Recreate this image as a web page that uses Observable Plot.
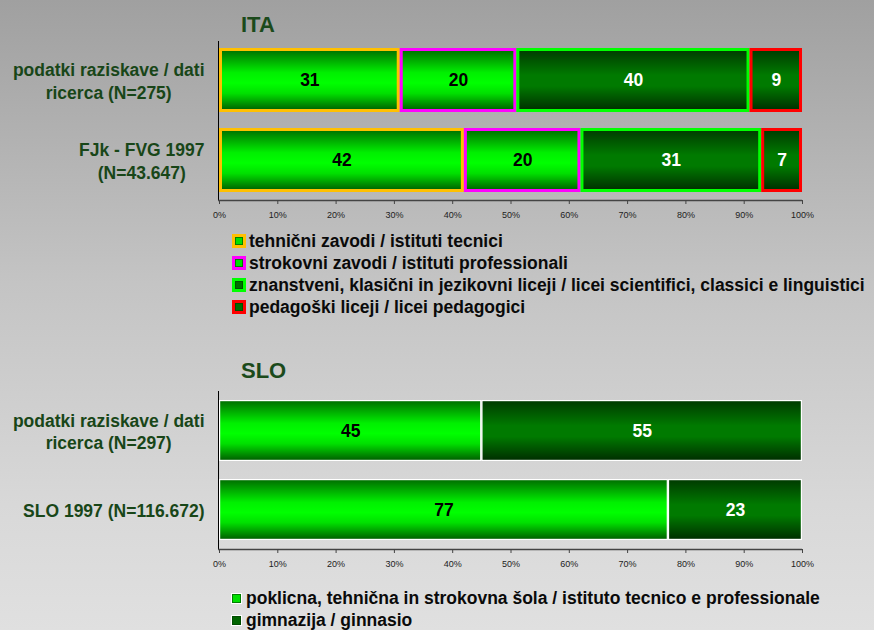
<!DOCTYPE html>
<html>
<head>
<meta charset="utf-8">
<script src="https://cdn.jsdelivr.net/npm/d3@7"></script>
<script src="https://cdn.jsdelivr.net/npm/@observablehq/plot@0.6"></script>
<style>
  html, body { margin: 0; padding: 0; }
  #page {
    position: relative; width: 874px; height: 630px; overflow: hidden;
    background: linear-gradient(to bottom, #a0a0a0 0%, #c4c4c4 45%, #d8d8d8 80%, #e0e0e0 100%);
    font-family: "Liberation Sans", Arial, sans-serif;
  }
  .title { position: absolute; font-weight: bold; font-size: 22px; color: #1b4a1b; line-height: 1; }
  .plot { position: absolute; left: 0; }
  .legend { position: absolute; font-weight: bold; font-size: 17.5px; color: #0a0a0a; }
  .legend .item { position: absolute; white-space: nowrap; height: 22px; line-height: 22px; }
  .sw { position: absolute; box-sizing: border-box; }
  .sw i { position: absolute; box-sizing: border-box; display: block; }
</style>
</head>
<body>
<svg width="0" height="0" style="position:absolute">
  <defs>
    <linearGradient id="gLight" x1="0" y1="0" x2="0" y2="1">
      <stop offset="0" stop-color="#006e00"/>
      <stop offset="0.38" stop-color="#00f000"/>
      <stop offset="0.55" stop-color="#00ff00"/>
      <stop offset="0.72" stop-color="#00e000"/>
      <stop offset="1" stop-color="#005e00"/>
    </linearGradient>
    <linearGradient id="gDark" x1="0" y1="0" x2="0" y2="1">
      <stop offset="0" stop-color="#003a00"/>
      <stop offset="0.42" stop-color="#007a00"/>
      <stop offset="0.6" stop-color="#007a00"/>
      <stop offset="1" stop-color="#002e00"/>
    </linearGradient>
  </defs>
</svg>
<div id="page">
  <div class="title" style="left:241px; top:14px;">ITA</div>
  <div class="title" style="left:241px; top:360px;">SLO</div>
  <div id="ita" class="plot" style="top:0px;"></div>
  <div id="slo" class="plot" style="top:350px;"></div>
  <div id="itaLegend" class="legend" style="left:0; top:0;"></div>
  <div id="sloLegend" class="legend" style="left:0; top:0;"></div>
</div>
<script>
// ---- data ----
const itaGroups = ["podatki raziskave / dati\nricerca (N=275)", "FJk - FVG 1997\n(N=43.647)"];
const itaCategories = [
  "tehnični zavodi / istituti tecnici",
  "strokovni zavodi / istituti professionali",
  "znanstveni, klasični in jezikovni liceji / licei scientifici, classici e linguistici",
  "pedagoški liceji / licei pedagogici"
];
const itaSurvey = [31, 20, 40, 9];
const itaFVG1997 = [42, 20, 31, 7];

const sloGroups = ["podatki raziskave / dati\nricerca (N=297)", "SLO 1997 (N=116.672)"];
const sloCategories = [
  "poklicna, tehnična in strokovna šola / istituto tecnico e professionale",
  "gimnazija / ginnasio"
];
const sloSurvey = [45, 55];
const sloSLO1997 = [77, 23];

const xTicks = [0, 10, 20, 30, 40, 50, 60, 70, 80, 90, 100];

// ---- styles ----
const itaFill = ["url(#gLight)", "url(#gLight)", "url(#gDark)", "url(#gDark)"];
const itaStroke = ["#ffc000", "#ff00ff", "#00ff00", "#ff0000"];
const itaText = ["#000", "#000", "#fff", "#fff"];
const itaSwatchInner = ["#00e000", "#00e000", "#006e00", "#006e00"];
const sloFill = ["url(#gLight)", "url(#gDark)"];
const sloText = ["#000", "#fff"];
const sloSwatchInner = ["#00e000", "#006400"];

const FONT = "Liberation Sans, Arial, sans-serif";
const labelColor = "#184618";

function rowsFrom(groups, seriesList) {
  const out = [];
  groups.forEach((g, gi) => seriesList[gi].forEach((v, i) => out.push({group: g, i, value: v})));
  return out;
}

const ctx = document.createElement("canvas").getContext("2d");
ctx.font = "bold 17.5px 'Liberation Sans'";
function blockWidth(label) {
  return d3.max(label.split("\n"), l => ctx.measureText(l).width);
}

function bottomLine(index, scales, values, dim) {
  const y = dim.height - dim.marginBottom;
  const g = d3.create("svg:line")
    .attr("x1", dim.marginLeft - 1).attr("x2", dim.width - dim.marginRight)
    .attr("y1", y + 0.5).attr("y2", y + 0.5)
    .attr("stroke", "#444").attr("stroke-width", 1.4);
  return g.node();
}

function makeChart(groups, seriesList, fills, strokes, strokeWidth, texts, pad) {
  const rows = rowsFrom(groups, seriesList);
  const marginLeft = 219;
  const labelMarks = groups.map(g => Plot.text([g], {
    y: d => d, text: d => d, frameAnchor: "left", textAnchor: "middle",
    dx: (204 - blockWidth(g) / 2) - marginLeft,
    lineHeight: 1.28, fontSize: 17.5, fontWeight: "bold", fill: labelColor
  }));
  const svg = Plot.plot({
    width: 874, height: 225,
    marginLeft, marginRight: 72, marginTop: pad.top, marginBottom: pad.bottom,
    style: {background: "transparent", fontFamily: FONT, overflow: "visible"},
    x: {domain: [0, 100], label: null},
    y: {domain: groups, paddingInner: pad.inner, paddingOuter: pad.outer, axis: null},
    color: {type: "identity"},
    marks: [
      Plot.barX(rows, Plot.stackX({
        x: "value", y: "group",
        fill: d => fills[d.i], stroke: d => strokes[d.i], strokeWidth,
        inset: strokeWidth / 2
      })),
      Plot.text(rows, Plot.stackX({
        x: "value", y: "group", text: d => String(d.value),
        fill: d => texts[d.i], fontSize: 17.5, fontWeight: "bold"
      })),
      Plot.ruleX([0], {stroke: "#000", strokeWidth: 1, dx: -1}),
      bottomLine,
      Plot.axisX({ticks: xTicks, tickFormat: d => d + "%", tickSize: 4, tickPadding: 7,
                  fontSize: 9, stroke: "#444", fill: "#222", label: null}),
      ...labelMarks
    ]
  });
  return svg;
}

document.getElementById("ita").append(
  makeChart(itaGroups, [itaSurvey, itaFVG1997], itaFill, itaStroke, 3, itaText,
            {top: 41, bottom: 25, inner: 0.195, outer: 0.09})
);
document.getElementById("slo").append(
  makeChart(sloGroups, [sloSurvey, sloSLO1997], sloFill, ["#fff", "#fff"], 1.2, sloText,
            {top: 41, bottom: 26, inner: 0.23, outer: 0.108})
);

// ---- legends ----
function legend(el, cats, tops, textLeft, swatch) {
  cats.forEach((c, i) => {
    const item = document.createElement("div");
    item.className = "item";
    item.style.left = textLeft + "px";
    item.style.top = (tops[i] - 11) + "px";
    item.textContent = c;
    el.append(item);
    const sw = document.createElement("div");
    sw.className = "sw";
    Object.assign(sw.style, {
      left: swatch.x + "px", top: (tops[i] - swatch.size / 2) + "px",
      width: swatch.size + "px", height: swatch.size + "px",
      background: swatch.border[i]
    });
    const inner = document.createElement("i");
    Object.assign(inner.style, {
      left: swatch.pad + "px", top: swatch.pad + "px",
      width: (swatch.size - 2 * swatch.pad) + "px", height: (swatch.size - 2 * swatch.pad) + "px",
      background: swatch.inner[i], border: "1px solid rgba(0,60,0,0.6)"
    });
    sw.append(inner);
    el.append(sw);
  });
}
legend(document.getElementById("itaLegend"), itaCategories, [241, 263, 285, 307], 249,
       {x: 232, size: 14, pad: 3, border: itaStroke, inner: itaSwatchInner});
legend(document.getElementById("sloLegend"), sloCategories, [598, 620], 246,
       {x: 231, size: 11, pad: 1, border: ["#fff", "#fff"], inner: sloSwatchInner});
</script>
</body>
</html>
